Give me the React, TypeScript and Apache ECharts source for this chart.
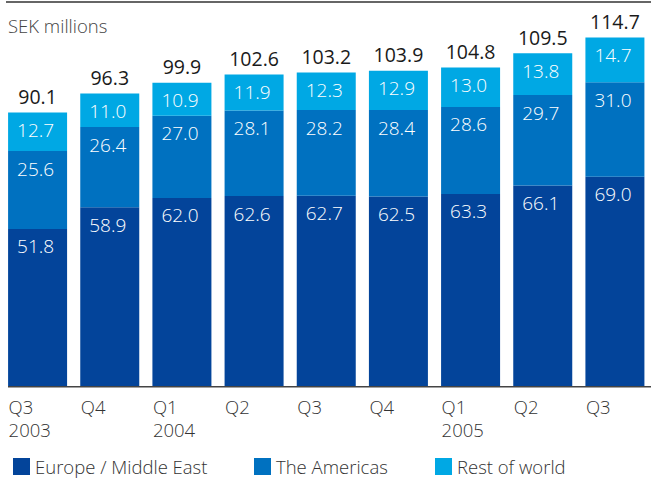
import React, { useEffect, useRef } from "react";
import * as echarts from "echarts";

const quarters = ["Q3", "Q4", "Q1", "Q2", "Q3", "Q4", "Q1", "Q2", "Q3"];
const years = ["2003", "", "2004", "", "", "", "2005", "", ""];
const europe = [51.8, 58.9, 62.0, 62.6, 62.7, 62.5, 63.3, 66.1, 69.0];
const americas = [25.6, 26.4, 27.0, 28.1, 28.2, 28.4, 28.6, 29.7, 31.0];
const restOfWorld = [12.7, 11.0, 10.9, 11.9, 12.3, 12.9, 13.0, 13.8, 14.7];
const totals = [90.1, 96.3, 99.9, 102.6, 103.2, 103.9, 104.8, 109.5, 114.7];

const FONT = "'Open Sans', 'Noto Sans', sans-serif";
const C_EU = "#03449a";
const C_AM = "#0071c0";
const C_RW = "#00a8e4";
const FS = 18.5;

export default function App() {
  const ref = useRef<HTMLDivElement>(null);
  useEffect(() => {
    if (!ref.current) return;
    const chart = echarts.init(ref.current, null, { renderer: "svg" });
    const categories = quarters.map((q, i) => (years[i] ? q + "\n" + years[i] : q));
    const inner = {
      show: true,
      position: [9, 8],
      color: "#ffffff",
      fontSize: 19,
      fontFamily: FONT,
      fontWeight: 300,
      formatter: (p: any) => Number(p.value).toFixed(1),
    };
    const legendBase = {
      top: 452,
      width: 240,
      itemWidth: 17,
      itemHeight: 17,
      icon: "rect",
      itemGap: 12,
      textStyle: {
        fontSize: FS,
        fontFamily: FONT,
        color: "#333",
        fontWeight: 300,
      },
    };
    chart.setOption({
      animation: false,
      backgroundColor: "#ffffff",
      grid: { left: 1.5, right: -7.5, top: 21.5, bottom: 92.5, containLabel: false },
      graphic: [
        { type: "rect", shape: { x: 6, y: 1, width: 645, height: 2 }, style: { fill: "#666" } },
        {
          type: "text",
          x: 8,
          y: 16,
          style: { text: "SEK millions", fontSize: FS, fontFamily: FONT, fill: "#444", fontWeight: 300 },
        },
        { type: "rect", shape: { x: 8, y: 386, width: 643, height: 1.5 }, style: { fill: "#444" }, z: 100 },
      ],
      legend: [
        { ...legendBase, left: 8, data: ["Europe / Middle East"] },
        { ...legendBase, left: 249, data: ["The Americas"] },
        { ...legendBase, left: 430, data: ["Rest of world"] },
      ],
      xAxis: {
        type: "category",
        data: categories,
        axisLine: { show: false },
        axisTick: { show: false },
        axisLabel: {
          interval: 0,
          margin: 8,
          align: "center",
          lineHeight: 23,
          color: "#333",
          fontSize: FS,
          fontFamily: FONT,
          fontWeight: 300,
          formatter: (v: string) =>
            v
              .split("\n")
              .map((s) => "{a|" + s + "}")
              .join("\n"),
          rich: {
            a: { width: 58, align: "left", fontSize: FS, fontFamily: FONT, color: "#333", lineHeight: 23, fontWeight: 300 },
          },
        },
      },
      yAxis: {
        type: "value",
        min: 0,
        max: 120,
        show: false,
        splitLine: { show: false },
      },
      series: [
        {
          name: "Europe / Middle East",
          type: "bar",
          stack: "s",
          data: europe,
          barWidth: 59,
          itemStyle: { color: C_EU },
          label: inner,
        },
        {
          name: "The Americas",
          type: "bar",
          stack: "s",
          data: americas,
          barWidth: 59,
          itemStyle: { color: C_AM },
          label: inner,
        },
        {
          name: "Rest of world",
          type: "bar",
          stack: "s",
          data: restOfWorld,
          barWidth: 59,
          itemStyle: { color: C_RW },
          label: inner,
        },
        {
          name: "Total",
          type: "bar",
          stack: "s",
          data: totals.map(() => 0),
          barWidth: 59,
          itemStyle: { color: "transparent" },
          label: {
            show: true,
            position: "top",
            distance: 6,
            color: "#1a1a1a",
            fontSize: 19.5,
            fontFamily: FONT,
            fontWeight: 500,
            formatter: (p: any) => totals[p.dataIndex].toFixed(1),
          },
        },
      ],
    });
    return () => chart.dispose();
  }, []);
  return <div ref={ref} style={{ width: 651, height: 479, position: "absolute", left: 0, top: 0 }} />;
}
